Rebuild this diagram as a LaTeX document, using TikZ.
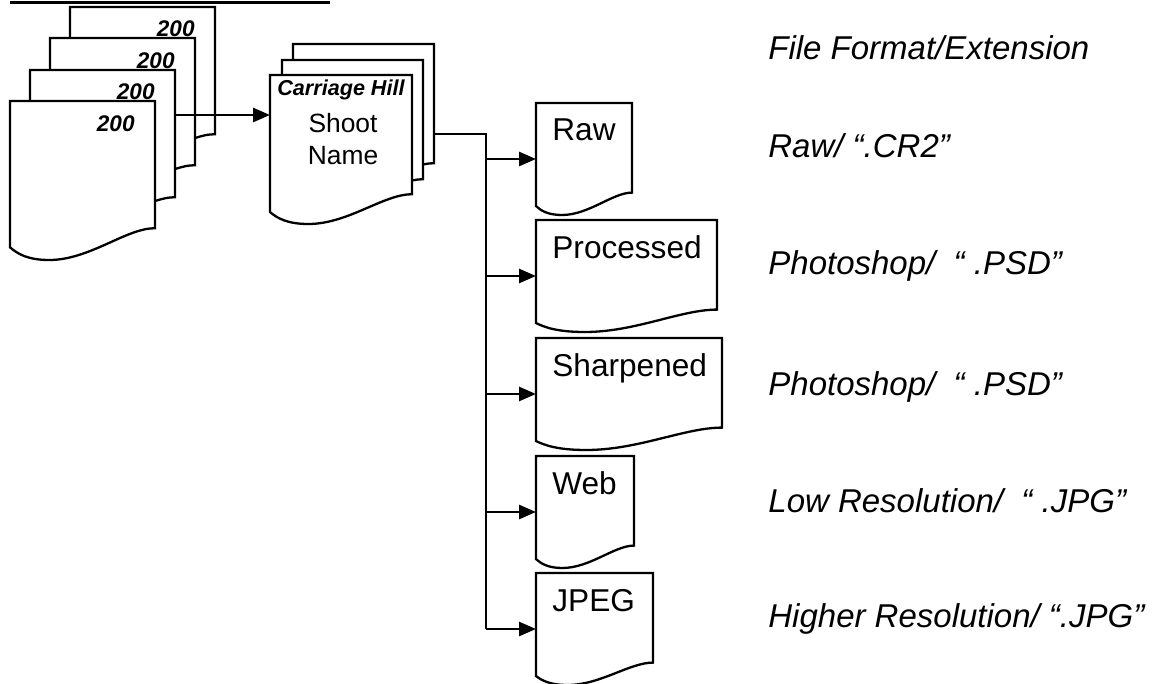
\documentclass[tikz,border=0pt]{standalone}
\usepackage{fontspec}
\setmainfont{Liberation Sans}
\usetikzlibrary{arrows.meta}

\tikzset{
    docline/.style={draw, fill=white, line width=1.15pt, line join=miter},
    conn/.style={line width=1.35pt},
    tip/.style={-{Triangle[length=8.5pt,width=7pt]}},
    pics/docpage/.style n args={3}{code={
        \draw[docline] (0,0) coordinate (-nw) -- (#1,0) coordinate (-ne)
            -- (#1,0.8*#2) .. controls (0.8*#1,0.8*#2) and (0.55*#1,#2) .. (0.27*#1,#2)
            .. controls (0.12*#1,#2) and (0.05*#1,0.96*#2) .. (0,0.92*#2) -- cycle;
        \coordinate (-in) at (0,#3);
    }},
    numlbl/.style={anchor=base east, inner sep=0pt, font=\fontsize{11.3}{13}\selectfont\bfseries\itshape},
    doclbl/.style={anchor=base west, inner sep=0pt, font=\fontsize{15.8}{18}\selectfont},
    fmtlbl/.style={anchor=base west, inner sep=0pt, font=\fontsize{16.5}{19}\selectfont\itshape}
}

\begin{document}
\begin{tikzpicture}[x=0.5pt, y=-0.5pt]
            \useasboundingbox (0,0) rectangle (1156,684);

            % rule at the top
            \draw[line width=1.5pt] (10,3) -- (330,3);

            % stack of pages
            \pic (pD) at (70,7) {docpage={145}{159}{40}};
            \pic (pC) at (50,38) {docpage={145}{159}{40}};
            \pic (pB) at (30,70) {docpage={145}{159}{40}};
            \pic (pA) at (10,101) {docpage={145}{159}{40}};
            \node[numlbl] (nD) at (195,37) {200};
            \node[numlbl] (nC) at (175,69) {200};
            \node[numlbl] (nB) at (155,100) {200};
            \node[numlbl] (nA) at (135,132) {200};

            % shoot stack
            \pic (shootC) at (293,44) {docpage={141}{149}{40}};
            \pic (shootB) at (282,60) {docpage={141}{149}{40}};
            \pic (shoot) at (270,75) {docpage={142}{149}{40}};
            \node[anchor=base, inner sep=0pt, font=\fontsize{10.8}{13}\selectfont\bfseries\itshape] (hill) at (341,96) {Carriage Hill};
            \node[anchor=base, inner sep=0pt, font=\fontsize{13.2}{16}\selectfont] (shootA) at (343,133) {Shoot};
            \node[anchor=base, inner sep=0pt, font=\fontsize{13.2}{16}\selectfont] (shootN) at (343,165) {Name};

            % output files
            \pic (raw) at (536,103) {docpage={96}{112}{56}};
            \pic (proc) at (536,220) {docpage={181}{112}{56}};
            \pic (sharp) at (536,338) {docpage={186}{112}{56}};
            \pic (web) at (536,456) {docpage={98}{112}{56}};
            \pic (jpeg) at (536,573) {docpage={117}{112}{56}};
            \node[doclbl] (lraw) at (552,141) {Raw};
            \node[doclbl] (lproc) at (552,258) {Processed};
            \node[doclbl] (lsharp) at (552,376) {Sharpened};
            \node[doclbl] (lweb) at (552,494) {Web};
            \node[doclbl] (ljpeg) at (552,611) {JPEG};

            % formats
            \node[fmtlbl] (fhead) at (768,60) {File Format/Extension};
            \node[fmtlbl] (fraw) at (768,158) {Raw/ “.CR2”};
            \node[fmtlbl] (fproc) at (768,275) {Photoshop/ \ “ .PSD”};
            \node[fmtlbl] (fsharp) at (768,395) {Photoshop/ \ “ .PSD”};
            \node[fmtlbl] (fweb) at (768,512) {Low Resolution/ \ “ .JPG”};
            \node[fmtlbl] (fjpeg) at (768,627) {Higher Resolution/ “.JPG”};

            % connectors
            \draw[conn,tip] (pB-ne |- shoot-in) -- (shoot-in);
            \coordinate (fork) at (486,134);
            \draw[conn] (shootC-ne |- fork) -- (fork) -- (fork |- jpeg-in);
            \foreach \d in {raw,proc,sharp,web,jpeg}
                \draw[conn,tip] (fork |- \d-in) -- (\d-in);
        \end{tikzpicture}
\end{document}
